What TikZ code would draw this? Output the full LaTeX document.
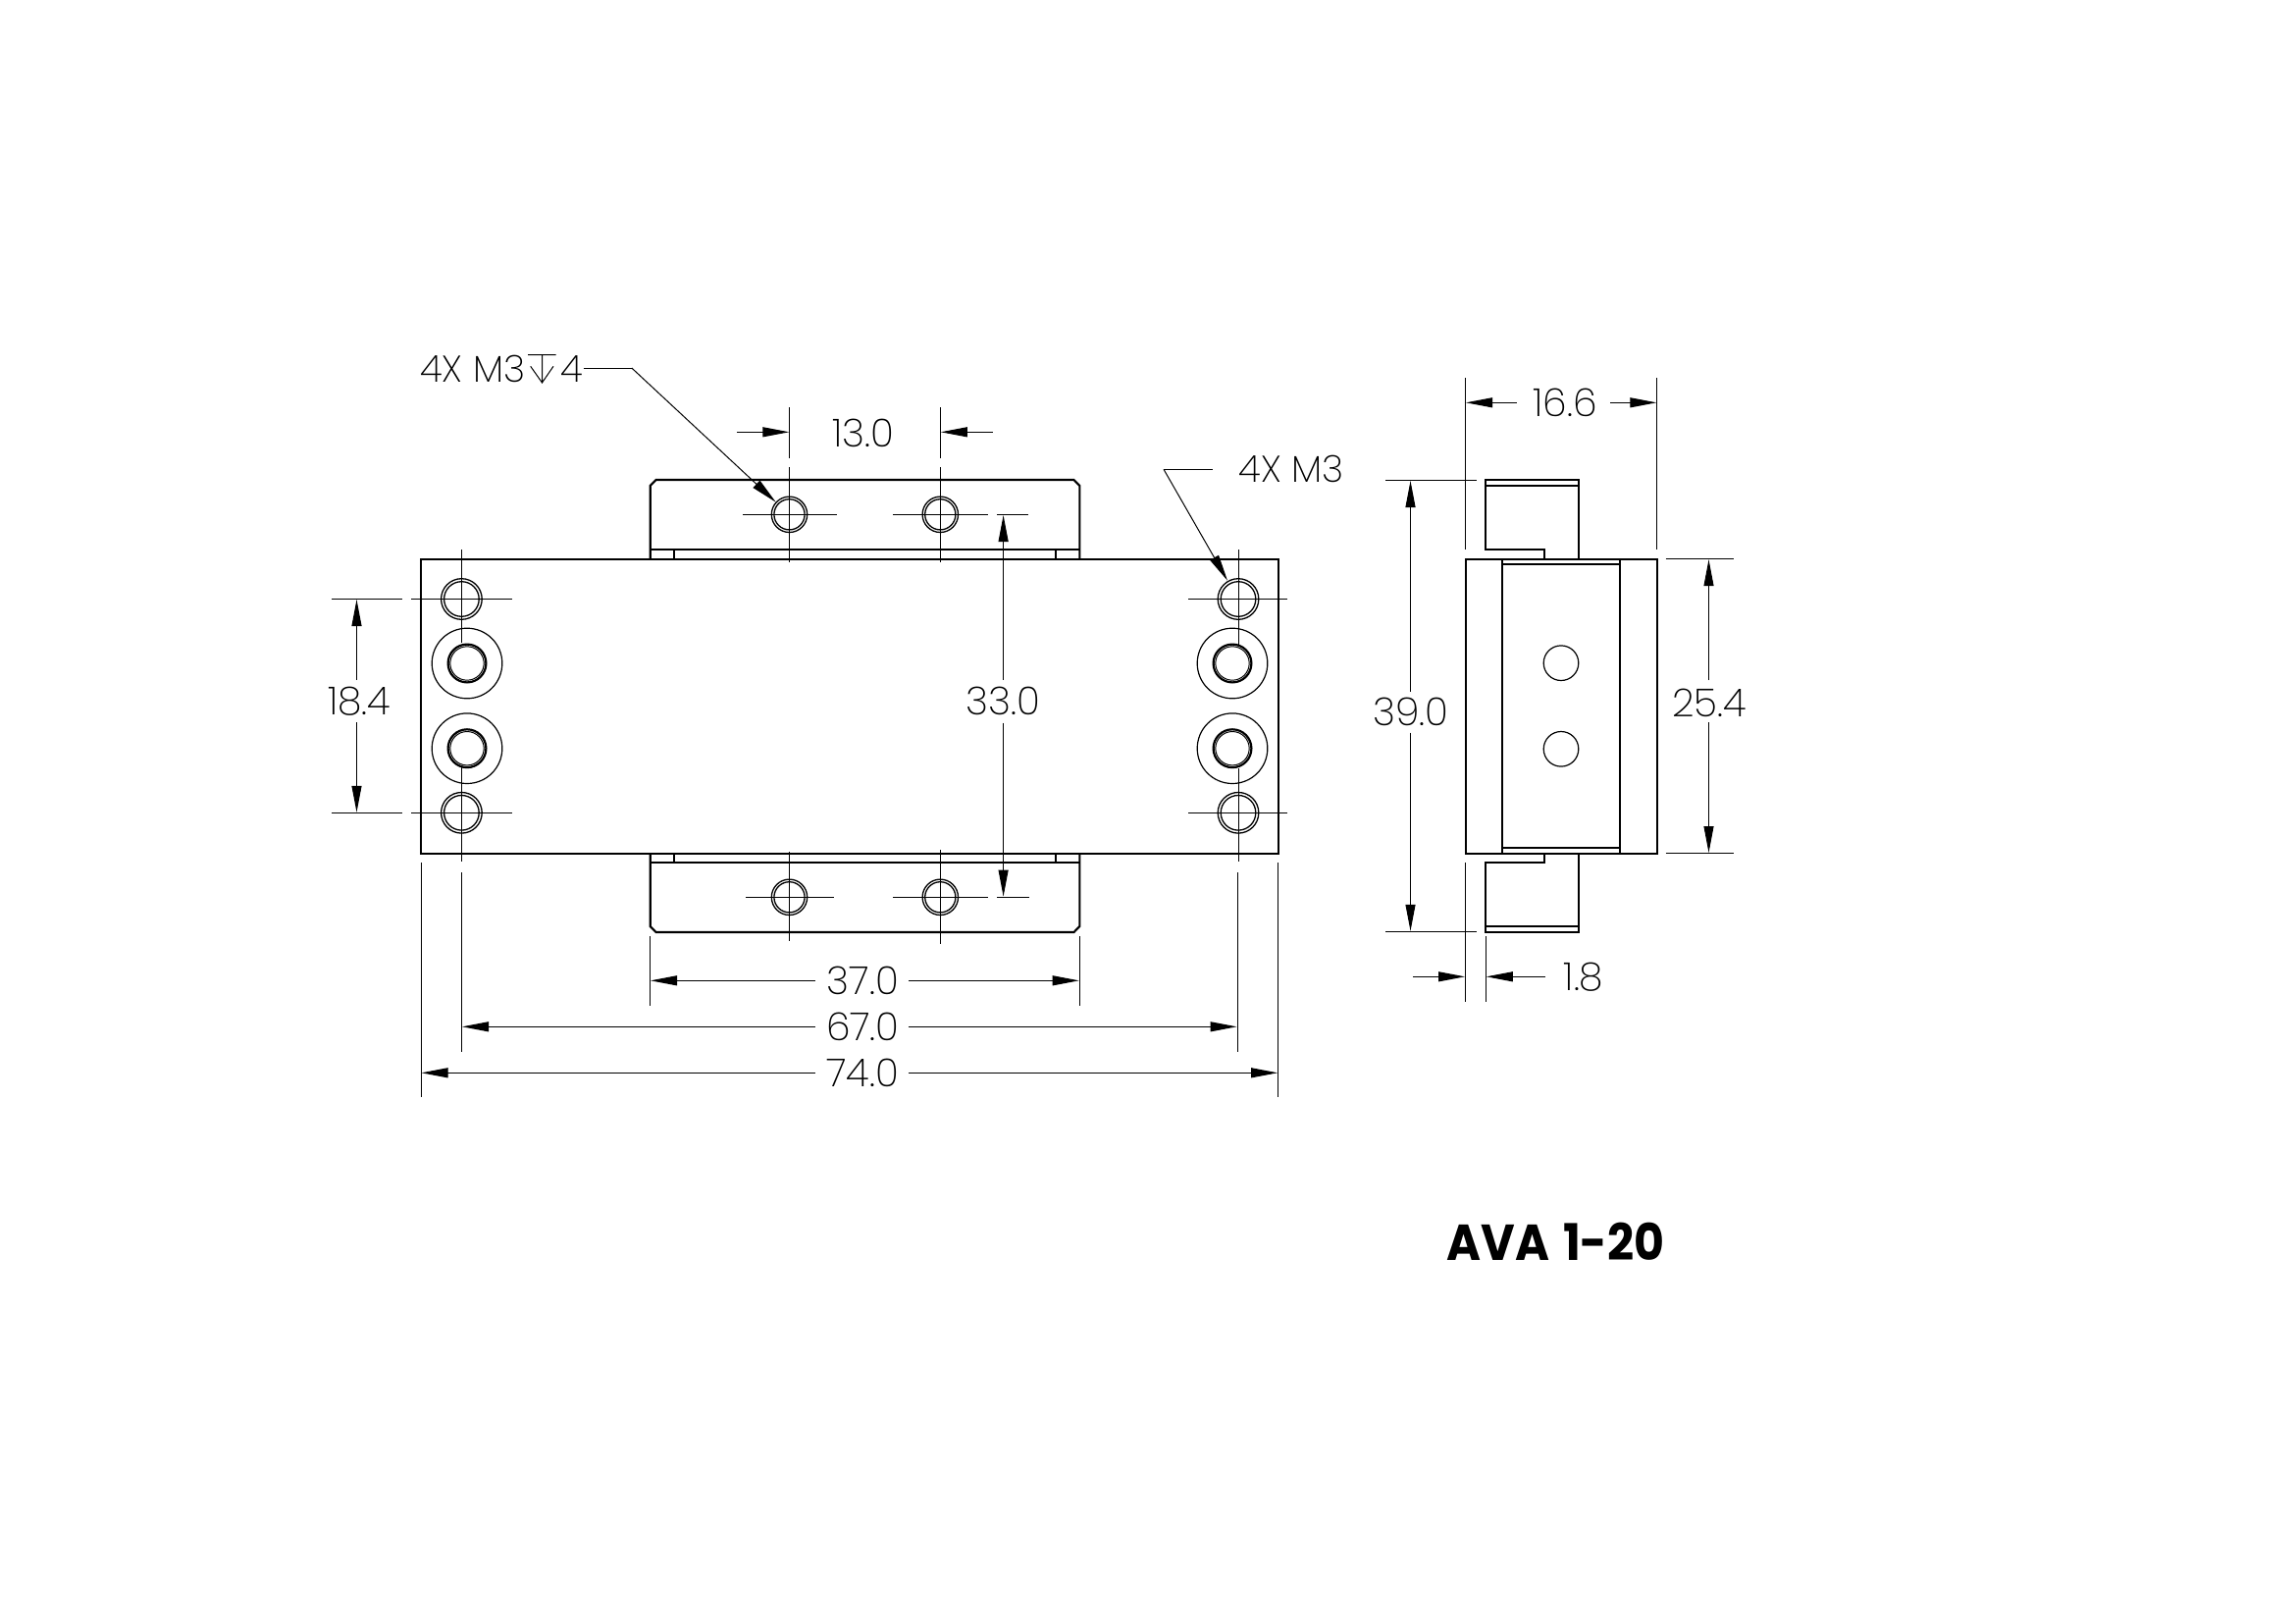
\documentclass[tikz,border=0pt]{standalone}
\usepackage{fontspec}
\usepackage{graphicx}
\newfontfamily\dimfont{Poppins ExtraLight}
\newfontfamily\titlefont{Poppins}[UprightFont=* Bold]
\usetikzlibrary{arrows.meta}
\tikzset{
  x=1pt,y=-1pt,
  body/.style={line width=2.1pt,line join=miter},
  fine/.style={line width=1pt},
  hole/.style={line width=1.3pt},
  dimarrow/.style={line width=1pt,-{Triangle[length=27pt,width=10pt,sep=0pt]}},
  dimtext/.style={inner sep=0pt,font=\dimfont\fontsize{39.5}{40}\selectfont,text=black},
  leadtext/.style={inner sep=0pt,font=\dimfont\fontsize{38}{38}\selectfont,text=black},
  titletext/.style={inner sep=0pt,font=\titlefont\fontsize{50}{50}\selectfont}
}
\begin{document}
\begin{tikzpicture}
\useasboundingbox (0,0) rectangle (2339,1654);
% front view body
\draw[body] (429,570) rectangle (1302.6,870);
% top clamp
\draw[body] (662.7,570) -- (662.7,495) -- (668.5,489) -- (1094.5,489) -- (1100.3,495) -- (1100.3,570);
\draw[body] (662.7,559.7) -- (1100.3,559.7);
\draw[body] (687,559.7) -- (687,570) (1076,559.7) -- (1076,570);
% bottom clamp
\draw[body] (662.7,870) -- (662.7,944) -- (668.5,950) -- (1094.5,950) -- (1100.3,944) -- (1100.3,870);
\draw[body] (662.7,879) -- (1100.3,879);
\draw[body] (687,870) -- (687,879) (1076,870) -- (1076,879);
% M3 holes on the clamps
\foreach \hx/\hy in {804.5/524.3,958.3/524.3,804.5/914.3,958.3/914.3}{
  \draw[hole] (\hx,\hy) circle (18.2);
  \draw[hole] (\hx,\hy) circle (15.6);
}
% small holes in the body
\foreach \hx/\hy in {470.4/610.5,470.4/828.3,1262/610.5,1262/828.3}{
  \draw[hole] (\hx,\hy) circle (20.8);
  \draw[hole] (\hx,\hy) circle (17.8);
}
% counterbored holes
\foreach \hx/\hy in {476/676,476/762.7,1256/676,1256/762.7}{
  \draw[line width=1.2pt] (\hx,\hy) circle (35.8);
  \draw[line width=2.2pt] (\hx,\hy) circle (19.4);
  \draw[line width=1pt] (\hx,\hy) circle (17.2);
}
% centre lines
\draw[fine] (757.3,524.3) -- (852.7,524.3) (910,524.3) -- (1006.7,524.3);
\draw[fine] (804.8,476) -- (804.8,572.5) (958.3,476) -- (958.3,572.5);
\draw[fine] (804.8,415) -- (804.8,466.7) (958.3,415) -- (958.3,466.7);
\draw[fine] (760,914.3) -- (849.5,914.3) (910,914.3) -- (1006.8,914.3);
\draw[fine] (804.8,868) -- (804.8,959) (958.5,866) -- (958.5,961.7);
\draw[fine] (419.4,610.5) -- (522,610.5) (419.4,828.3) -- (522,828.3);
\draw[fine] (1211,610.5) -- (1312.3,610.5) (1211,828.3) -- (1312.3,828.3);
\draw[fine] (470.4,560) -- (470.4,655) (470.4,782) -- (470.4,878);
\draw[fine] (1262,560) -- (1262,657) (1262,783) -- (1262,878);
% 13.0
\draw[dimarrow] (751,440.3) -- (804.3,440.3);
\draw[dimarrow] (1011.7,440.3) -- (958.8,440.3);
\node[dimtext] (d13) at (880,441.5) {13.0};
% 33.0
\draw[fine] (1016,524.3) -- (1047.7,524.3) (1016,914.3) -- (1048.7,914.3);
\draw[dimarrow] (1022.6,693) -- (1022.6,525);
\draw[dimarrow] (1022.6,736.7) -- (1022.6,913.6);
\node[dimtext] (d33) at (1022.6,714.5) {33.0};
% 18.4
\draw[fine] (338,610.5) -- (410,610.5) (338,828.3) -- (410,828.3);
\draw[dimarrow] (363.5,693) -- (363.5,611);
\draw[dimarrow] (363.5,736) -- (363.5,827.8);
\node[dimtext] (d18) at (366,715) {18.4};
% 37.0
\draw[fine] (662.5,954) -- (662.5,1025) (1100.2,954) -- (1100.2,1025);
\draw[dimarrow] (830.5,999.3) -- (663,999.3);
\draw[dimarrow] (925.8,999.3) -- (1099.7,999.3);
\node[dimtext] (d37) at (879.3,999.7) {37.0};
% 67.0
\draw[fine] (470.6,889) -- (470.6,1071.7) (1261,889) -- (1261,1071.7);
\draw[dimarrow] (830.5,1046.3) -- (471,1046.3);
\draw[dimarrow] (925.8,1046.3) -- (1260.5,1046.3);
\node[dimtext] (d67) at (879.3,1046.7) {67.0};
% 74.0
\draw[fine] (429,879) -- (429,1118) (1302.6,879) -- (1302.6,1118);
\draw[dimarrow] (830.5,1093.3) -- (429.5,1093.3);
\draw[dimarrow] (925.8,1093.3) -- (1302.1,1093.3);
\node[dimtext] (d74) at (879.3,1093.7) {74.0};
% leaders
\node[leadtext,anchor=west] (lead1) at (428,376) {4X M3};
\draw[fine] (538,361.7) -- (566.7,361.7) (552.5,361.7) -- (552.5,390)
  (540.7,373.3) -- (552.5,390) -- (564,373.3);
\node[leadtext,anchor=east] (lead1b) at (594.5,376) {4};
\coordinate (lead1knee) at (643.8,375);
\draw[fine] (594.5,375) -- (lead1knee);
\draw[dimarrow] (lead1knee) -- (790.7,511.7);
\coordinate (lead2knee) at (1186,478.3);
\draw[fine] (1235.7,478.3) -- (lead2knee);
\draw[dimarrow] (lead2knee) -- (1251,591.7);
\node[leadtext,anchor=west] (lead2) at (1262.4,478.3) {4X M3};
% side view
\draw[body] (1493.7,570) rectangle (1689,870);
\draw[body] (1531,570) -- (1531,870) (1650.7,570) -- (1650.7,870);
\draw[body] (1531,575) -- (1650.7,575) (1531,864) -- (1650.7,864);
\draw[body] (1574,570) -- (1574,560) -- (1514,560) -- (1514,488.7) -- (1609,488.7) -- (1609,570);
\draw[body] (1514,495) -- (1609,495);
\draw[body] (1574,870) -- (1574,878.7) -- (1514,878.7) -- (1514,949.7) -- (1609,949.7) -- (1609,870);
\draw[body] (1514,943.7) -- (1609,943.7);
\draw[line width=1.2pt] (1591,675.7) circle (17.8) (1591,763.3) circle (17.8);
% 16.6
\draw[fine] (1493.5,385) -- (1493.5,560) (1688.8,385) -- (1688.8,560);
\draw[dimarrow] (1545.7,410.3) -- (1494,410.3);
\draw[dimarrow] (1641,410.3) -- (1688.3,410.3);
\node[dimtext] (d16) at (1595,410.7) {16.6};
% 39.0
\draw[fine] (1412.3,489.3) -- (1505,489.3) (1412.3,949.3) -- (1505,949.3);
\draw[dimarrow] (1437.5,705) -- (1437.5,490);
\draw[dimarrow] (1437.5,746.7) -- (1437.5,948.8);
\node[dimtext] (d39) at (1437.9,725.3) {39.0};
% 25.4
\draw[fine] (1697.7,569.7) -- (1766.7,569.7) (1697.7,869.5) -- (1766.7,869.5);
\draw[dimarrow] (1741.5,693.3) -- (1741.5,570.2);
\draw[dimarrow] (1741.5,736) -- (1741.5,869);
\node[dimtext] (d25) at (1742.3,716) {25.4};
% 1.8
\draw[fine] (1493.5,879) -- (1493.5,1020.7) (1514.3,954) -- (1514.3,1020.7);
\draw[dimarrow] (1440,995.3) -- (1493,995.3);
\draw[dimarrow] (1574.7,995.3) -- (1514.8,995.3);
\node[dimtext] (d1) at (1614,996) {1.8};
% title
\node[titletext] (title) at (1585.5,1265) {\scalebox{0.95}[1.03]{AVA\hspace{4pt} 1-20}};
\end{tikzpicture}
\end{document}
